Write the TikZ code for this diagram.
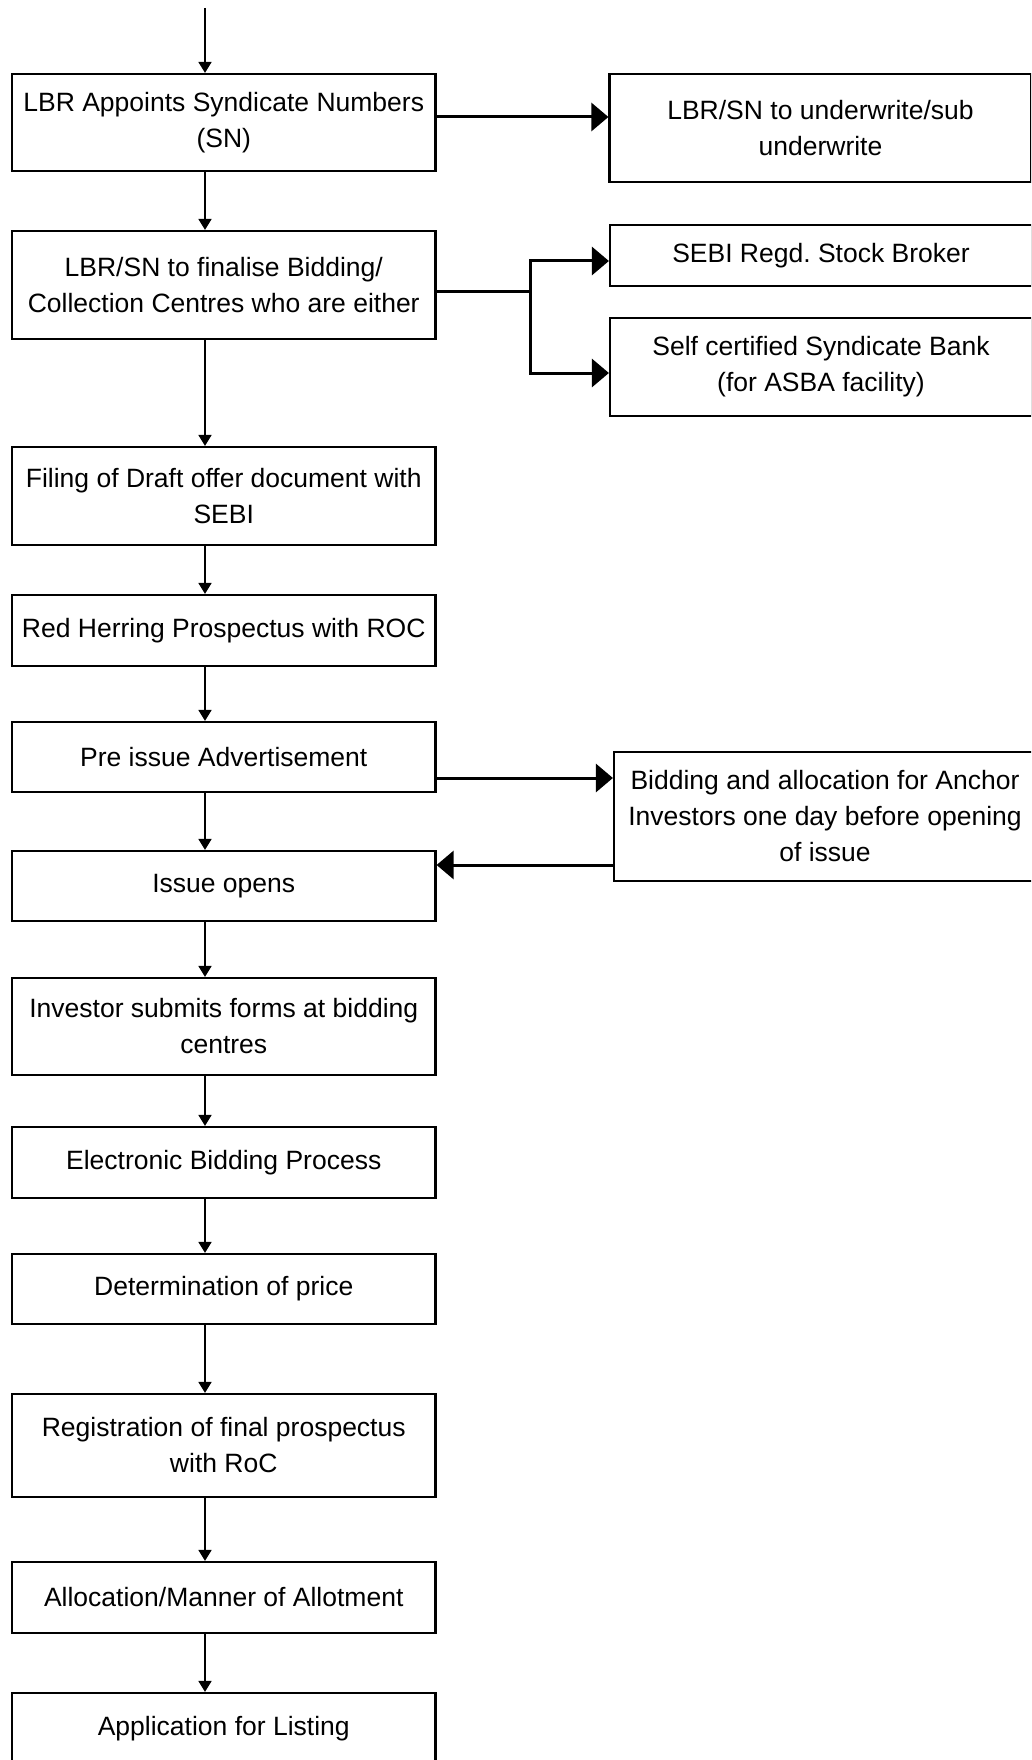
\documentclass[tikz,border=0pt]{standalone}
\usepackage{fontspec}
\setmainfont{Liberation Sans}
\usetikzlibrary{arrows.meta}
\frenchspacing

\begin{document}
\begin{tikzpicture}[x=1pt,y=-1pt,
  stage/.style={draw,line width=2.2pt,minimum width=423.5pt,inner sep=0pt,align=center,font=\fontsize{26.5}{36}\selectfont},
  side/.style={stage,minimum width=422pt},
  arr/.style={line width=1.8pt,-{Triangle[length=11pt,width=13pt]}},
  bigarr/.style={line width=3pt,-{Triangle[length=17pt,width=28pt]}},
  bigline/.style={line width=3pt}]
\useasboundingbox (0,0) rectangle (1031,1760);
\clip (0,0) rectangle (1031,1760);

% main column
\node[stage,minimum height=97] (appoint) at (223.75,122.5) {LBR Appoints Syndicate Numbers\\(SN)};
\node[stage,minimum height=108] (finalise) at (223.75,285) {LBR/SN to finalise Bidding/\\Collection Centres who are either};
\node[stage,minimum height=98] (filing) at (223.75,496) {Filing of Draft offer document with\\SEBI};
\node[stage,minimum height=71] (herring) at (223.75,630.5) {Red Herring Prospectus with ROC};
\node[stage,minimum height=70] (preissue) at (223.75,757) {Pre issue Advertisement};
\node[stage,minimum height=70] (opens) at (223.75,886) {Issue opens};
\node[stage,minimum height=97] (submits) at (223.75,1026.5) {Investor submits forms at bidding\\centres};
\node[stage,minimum height=71] (ebid) at (223.75,1162.5) {Electronic Bidding Process};
\node[stage,minimum height=70] (price) at (223.75,1289) {Determination of price};
\node[stage,minimum height=103] (regn) at (223.75,1445.5) {Registration of final prospectus\\with RoC};
\node[stage,minimum height=71] (allot) at (223.75,1597.5) {Allocation/Manner of Allotment};
\node[stage,minimum height=71] (listing) at (223.75,1728.5) {Application for Listing};

% side boxes
\node[side,minimum height=108] (underwrite) at (820.5,128) {LBR/SN to underwrite/sub\\underwrite};
\node[side,minimum height=61] (broker) at (821,255.5) {SEBI Regd. Stock Broker};
\node[side,minimum height=98] (bank) at (821,367) {Self certified Syndicate Bank\\(for ASBA facility)};
\node[side,minimum height=129] (anchorbid) at (825,816.5) {Bidding and allocation for Anchor\\Investors one day before opening\\of issue};

% flow down the column
\coordinate (entry) at (205,8);
\draw[arr] (entry) -- (entry |- appoint.north);
\foreach \a/\b in {appoint/finalise,finalise/filing,filing/herring,herring/preissue,preissue/opens,opens/submits,submits/ebid,ebid/price,price/regn,regn/allot,allot/listing}
  \draw[arr] ([xshift=-18.75pt]\a.south) -- ([xshift=-18.75pt]\b.north);

% side links
\coordinate (toward) at ([yshift=5.5pt]appoint.east);
\draw[bigarr] (toward) -- (toward -| underwrite.west);

\coordinate (fork) at ([yshift=-7pt]finalise.east);
\coordinate (split) at (530,292);
\coordinate (tobroker) at ([yshift=-5.5pt]broker.west);
\coordinate (tobank) at ([yshift=-6pt]bank.west);
\draw[bigline] (fork) -- (split);
\draw[bigarr] (split) |- (tobroker);
\draw[bigarr] (split) |- (tobank);

\coordinate (adv) at ([yshift=-21pt]preissue.east);
\draw[bigarr] (adv) -- (adv -| anchorbid.west);
\coordinate (back) at ([yshift=-48.5pt]anchorbid.west);
\draw[bigarr] (back) -- (back -| opens.east);
\end{tikzpicture}
\end{document}
